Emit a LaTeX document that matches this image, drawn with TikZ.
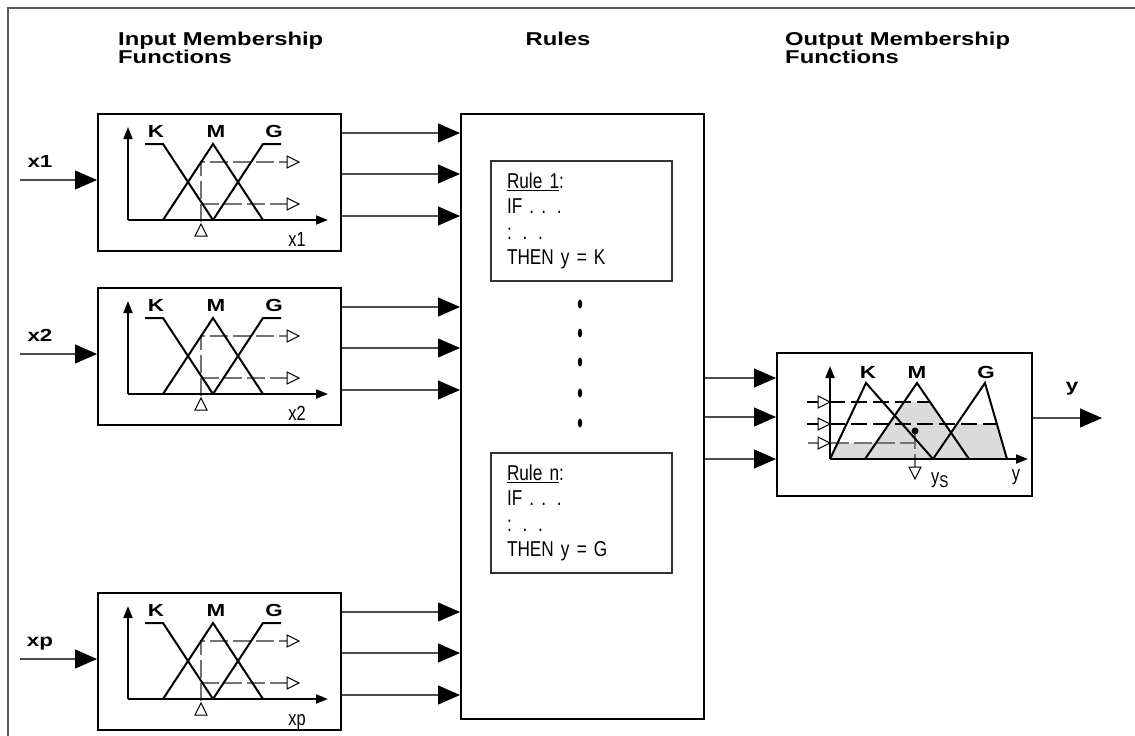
\documentclass[tikz,border=0pt]{standalone}
\usepackage{fontspec}
\setmainfont{Liberation Sans}
\newfontfamily\widefont[FakeStretch=1.28]{Liberation Sans}
\newfontfamily\narrowfont[FakeStretch=0.8]{Liberation Sans}
\usetikzlibrary{arrows.meta}

\tikzset{
  frame/.style={line width=1.5pt, black!65},
  bigbox/.style={draw, line width=2pt, inner sep=0pt},
  rulebox/.style={draw, line width=1.3pt, black!80, text=black, minimum width=181pt, minimum height=120pt,
    text width=149pt, inner xsep=16pt, align=left, font=\narrowfont\fontsize{21.5}{25.5}\selectfont},
  head/.style={font=\widefont\bfseries\fontsize{18.6}{18}\selectfont, align=left, inner sep=0pt},
  lab/.style={font=\widefont\bfseries\fontsize{17.5}{17}\selectfont, inner sep=0pt},
  axlab/.style={font=\narrowfont\fontsize{20.5}{20}\selectfont, inner sep=0pt},
  conn/.style={line width=1.1pt, black!70, -{Triangle[length=22pt,width=19pt,color=black]}},
  axis/.style={line width=2pt, -{Triangle[length=12pt,width=9pt]}},
  mf/.style={line width=2pt},
  fuzzy/.style={line width=1.2pt, black!55, dash pattern=on 18pt off 5pt},
  cut/.style={line width=1.2pt, dash pattern=on 16pt off 6pt},
  otri/.pic={\draw[line width=1pt, fill=white] (0,-6) -- (12,0) -- (0,6) -- cycle;}
}

\begin{document}
\begin{tikzpicture}[x=1pt, y=-1pt]
  \useasboundingbox (0,0) rectangle (1135,736);
  \draw[frame] (8,736) -- (8,8) -- (1135,8);

  % titles
  \node[head, anchor=north west] (ttlin) at (118,32) {Input Membership\\Functions};
  \node[head, anchor=north] (ttlrules) at (558,32) {Rules};
  \node[head, anchor=north west] (ttlout) at (785,32) {Output Membership\\Functions};

  % rule block
  \node[bigbox, minimum width=243pt, minimum height=605pt] (rules) at (582.5,416.5) {};
  \node[rulebox] (rule1) at (581.5,221) {\underline{Rule 1}:\\IF . . .\\: . .\\THEN y = K};
  \node[rulebox] (rulen) at (581.5,513) {\underline{Rule n}:\\IF . . .\\: . .\\THEN y = G};
  \foreach \yy in {304,333,362,393,423}
    \fill (580,\yy) ellipse [x radius=2.2, y radius=4.5];

  % input membership functions
  \foreach \i/\dy in {1/0, 2/174, p/479} {
    \begin{scope}[shift={(0,\dy)}]
      \node[bigbox, minimum width=243pt, minimum height=137pt] (in\i) at (219.5,182.5) {};
      \node[lab, anchor=base] (lx\i) at (40,167) {x\i};
      \coordinate (src\i) at (20,180);
      \draw[conn] (src\i) -- (in\i.west |- src\i);

      \draw[fuzzy] (201,222) -- (201,162) -- (287,162);
      \draw[fuzzy] (201,204) -- (287,204);
      \draw[axis] (128,220) -- (128,127);
      \draw[axis] (128,220) -- (328,220);
      \draw[mf] (145,144) -- (163,144) -- (213,220);
      \draw[mf] (163,220) -- (213,144) -- (263,220);
      \draw[mf] (213,220) -- (263,144) -- (281,144);
      \draw[mf] (145,220) -- (163,220) (263,220) -- (281,220);
      \pic at (287,162) {otri};
      \pic at (287,204) {otri};
      \pic[rotate=90] at (201,236) {otri};

      \node[lab, anchor=base] (k\i) at (156,137) {K};
      \node[lab, anchor=base] (m\i) at (216,137) {M};
      \node[lab, anchor=base] (g\i) at (274,137) {G};
      \node[axlab, anchor=base] (ax\i) at (297,246) {x\i};

      \foreach \k/\yy in {a/133, b/174, c/216} {
        \coordinate (lv\i\k) at (0,\yy);
        \draw[conn] (in\i.east |- lv\i\k) -- (rules.west |- lv\i\k);
      }
    \end{scope}
  }

  % output membership function
  \node[bigbox, minimum width=255pt, minimum height=143pt] (outmf) at (904.5,424.5) {};
  \fill[gray!28] (830,459) -- (837.6,443) -- (876,443) -- (904,402) -- (930,402) -- (951,432.7)
    -- (956.9,424) -- (996.9,424) -- (1007,459) -- cycle;
  \draw[cut] (807,402) -- (930,402);
  \draw[cut] (807,424) -- (998,424);
  \draw[fuzzy] (808,443) -- (915,443);
  \draw[fuzzy] (915,431) -- (915,467);
  \draw[axis] (830,459) -- (830,366);
  \draw[axis] (830,459) -- (1028,459);
  \draw[mf] (830,459) -- (866,383) -- (933,459);
  \draw[mf] (865,459) -- (917,383) -- (969,459);
  \draw[mf] (933,459) -- (985,383) -- (1007,459);
  \foreach \yy in {402,424,443}
    \pic at (818,\yy) {otri};
  \pic[rotate=-90] at (915,467) {otri};
  \fill (915,431) circle (3.5);

  \node[lab, anchor=base] (ko) at (868,378) {K};
  \node[lab, anchor=base] (mo) at (917,378) {M};
  \node[lab, anchor=base] (go) at (986,378) {G};
  \node[axlab, anchor=base west] (ys) at (931,483) {y\raisebox{-4pt}{\fontsize{17}{17}\selectfont S}};
  \node[axlab, anchor=base] (ay) at (1016,480) {y};

  \foreach \k/\yy in {a/378, b/417, c/459} {
    \coordinate (ag\k) at (0,\yy);
    \draw[conn] (rules.east |- ag\k) -- (outmf.west |- ag\k);
  }
  \coordinate (yend) at (1102,418);
  \draw[conn] (outmf.east |- yend) -- (yend);
  \node[lab, anchor=base] (ylab) at (1072,391) {y};
\end{tikzpicture}
\end{document}
